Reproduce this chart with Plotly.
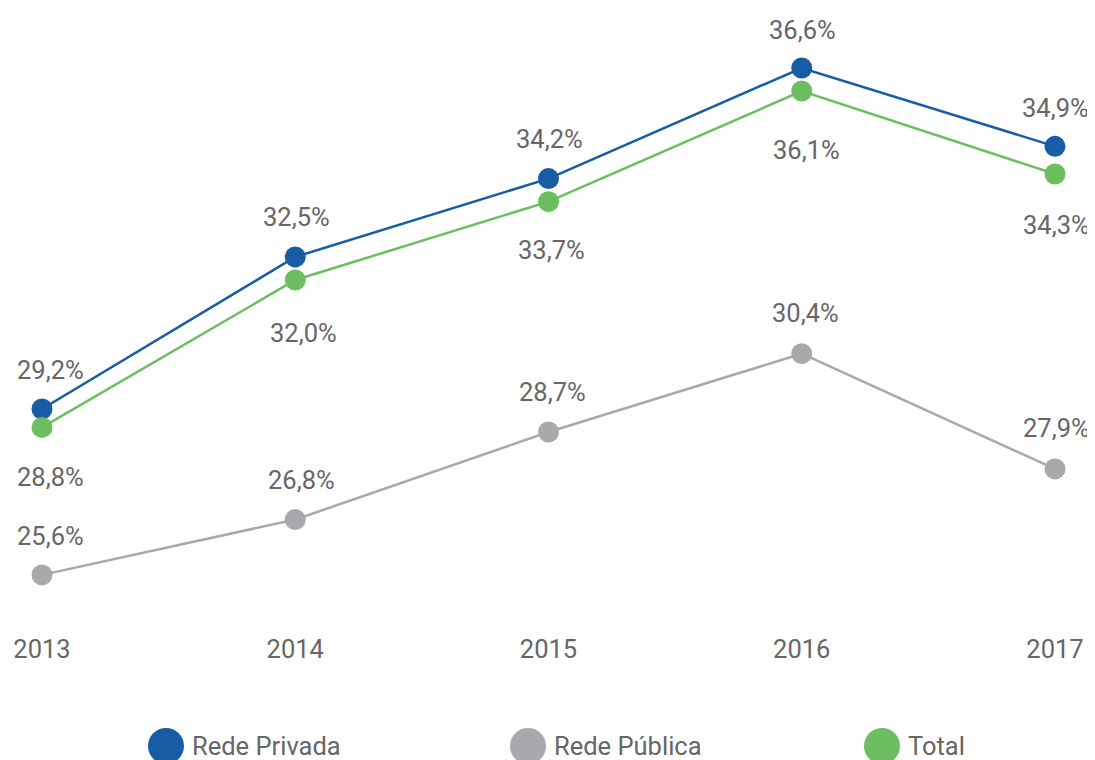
import plotly.graph_objects as go

years = [2013, 2014, 2015, 2016, 2017]
rede_privada = [29.2, 32.5, 34.2, 36.6, 34.9]
rede_publica = [25.6, 26.8, 28.7, 30.4, 27.9]
total = [28.8, 32.0, 33.7, 36.1, 34.3]

series_names = ["Rede Privada", "Rede Pública", "Total"]
colors = ["#175ca5", "#a9a9ad", "#6cbe60"]
TEXT = "#666666"
FONT = "Roboto"
FS = 25.5

OFF = 8  # default page body margin
W, H = 1095 - OFF, 760 - OFF
ML, MR, MT, MB = 0, 0, 12, 129
PX_PER_YEAR = 253.25
X0_PX = 42 - OFF

fig = go.Figure()
series = [rede_privada, rede_publica, total]
# label offsets in pixels (x, y) per series and point
label_dx = [[8, 1, 1, 1, 0], [8, 6, 4, 4, 1], [8, 8, 3, 5, 1]]
label_dy = [[39, 40, 40, 38, 38], [39, 40, 40, 41, 41], [-50, -53, -48, -59, -51]]

for name, vals, col in zip(series_names, series, colors):
    fig.add_trace(go.Scatter(
        x=years, y=vals, mode="lines+markers", name=name,
        line=dict(color=col, width=2.5),
        marker=dict(color=col, size=21),
        showlegend=False, hoverinfo="skip",
    ))

annotations = []
for vals, dxs, dys in zip(series, label_dx, label_dy):
    for x, v, dx, dy in zip(years, vals, dxs, dys):
        annotations.append(dict(
            x=x, y=v, xref="x", yref="y", showarrow=False,
            text=f"{v:.1f}".replace(".", ",") + "%",
            xshift=dx, yshift=dy,
            font=dict(family=FONT, size=FS, color=TEXT),
            xanchor="center", yanchor="middle",
        ))

# custom legend (large circles)
plot_w = W - ML - MR
plot_h = H - MT - MB
leg_y_px = 746 - OFF
leg_items = [(166 - OFF, 190 - OFF), (528 - OFF, 552 - OFF), (882 - OFF, 906 - OFF)]
shapes = []
for (cx, tx), name, col in zip(leg_items, series_names, colors):
    py = (H - MB - leg_y_px) / plot_h
    shapes.append(dict(
        type="circle", xref="paper", yref="paper",
        xsizemode="pixel", ysizemode="pixel",
        xanchor=(cx - ML) / plot_w, yanchor=py,
        x0=-18, x1=18, y0=-18, y1=18,
        fillcolor=col, line=dict(width=0),
    ))
    annotations.append(dict(
        x=(tx - ML) / plot_w, y=py, xref="paper", yref="paper",
        text=name, showarrow=False, xanchor="left", yanchor="middle",
        font=dict(family=FONT, size=FS, color=TEXT),
    ))

y_px_per_unit = 46.08
y_top_val = 36.6 + ((68 - OFF) - MT) / y_px_per_unit
y_bot_val = y_top_val - plot_h / y_px_per_unit

fig.update_layout(
    width=W, height=H,
    margin=dict(l=ML, r=MR, t=MT, b=MB),
    paper_bgcolor="white", plot_bgcolor="white",
    font=dict(family=FONT, size=FS, color=TEXT),
    xaxis=dict(
        range=[years[0] - X0_PX / PX_PER_YEAR, years[0] + (W - X0_PX) / PX_PER_YEAR],
        tickvals=years, ticktext=[str(y) for y in years],
        showgrid=False, zeroline=False, showline=False, ticks="",
        tickfont=dict(family=FONT, size=FS, color=TEXT),
    ),
    yaxis=dict(
        range=[y_bot_val, y_top_val], visible=False,
        showgrid=False, zeroline=False,
    ),
    shapes=shapes,
    annotations=annotations,
)

fig.write_html("out.html")
